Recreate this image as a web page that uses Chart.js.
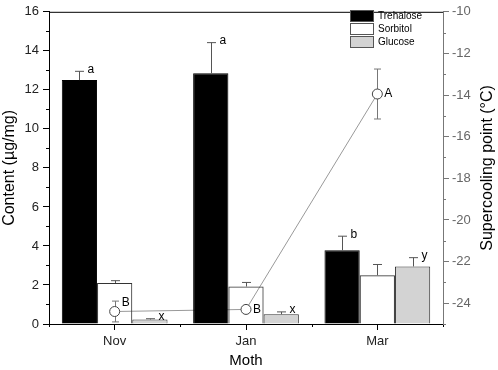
<!DOCTYPE html>
<html>
<head>
<meta charset="utf-8">
<script src="https://cdn.jsdelivr.net/npm/chart.js@4.4.1/dist/chart.umd.min.js"></script>
<style>
  body { margin: 0; background: #fff; }
</style>
</head>
<body>
<canvas id="chart" width="498" height="370"></canvas>
<script>
// data
var months = ["Nov", "Jan", "Mar"];
var trehalose = [12.5, 12.85, 3.78];
var trehaloseErr = [0.45, 1.57, 0.72];
var trehaloseLetters = ["a", "a", "b"];
var sorbitol = [2.1, 1.92, 2.5];
var sorbitolErr = [0.12, 0.21, 0.55];
var glucose = [0.23, 0.5, 2.95];
var glucoseErr = [0.04, 0.12, 0.45];
var glucoseLetters = ["x", "x", "y"];
var supercooling = [-24.4, -24.3, -13.95];
var supercoolingErr = [0.5, 0.15, 1.2];
var supercoolingLetters = ["B", "B", "A"];
var leftTicks = [0, 2, 4, 6, 8, 10, 12, 14, 16];
var rightTicks = [-24, -22, -20, -18, -16, -14, -12, -10];

Chart.defaults.font.family = "'Liberation Sans', Arial, sans-serif";
Chart.defaults.color = "#222";

var barErrors = [trehaloseErr, sorbitolErr, glucoseErr];
var barLetters = [trehaloseLetters, null, glucoseLetters];

// error bars, letters, minor ticks, legend, top frame
var extras = {
  id: "extras",
  beforeDatasetsDraw: function (chart) {
    var ctx = chart.ctx;
    var meta = chart.getDatasetMeta(3);
    var y2 = chart.scales.y2;
    ctx.save();
    ctx.strokeStyle = "#777";
    ctx.lineWidth = 1;
    meta.data.forEach(function (pt, i) {
      var hi = y2.getPixelForValue(supercooling[i] + supercoolingErr[i]);
      var lo = y2.getPixelForValue(supercooling[i] - supercoolingErr[i]);
      var x = Math.round(pt.x) + 0.5;
      ctx.beginPath();
      ctx.moveTo(x, hi); ctx.lineTo(x, lo);
      ctx.moveTo(x - 3.5, hi); ctx.lineTo(x + 3.5, hi);
      ctx.moveTo(x - 3.5, lo); ctx.lineTo(x + 3.5, lo);
      ctx.stroke();
    });
    ctx.restore();
  },
  afterDatasetsDraw: function (chart) {
    var ctx = chart.ctx;
    var y = chart.scales.y;
    var y2 = chart.scales.y2;
    var area = chart.chartArea;
    ctx.save();
    ctx.lineWidth = 1;
    ctx.font = "12px 'Liberation Sans', Arial, sans-serif";
    ctx.textBaseline = "middle";
    ctx.textAlign = "left";

    // bar error bars
    [0, 1, 2].forEach(function (d) {
      var meta = chart.getDatasetMeta(d);
      var vals = chart.data.datasets[d].data;
      meta.data.forEach(function (bar, i) {
        var top = y.getPixelForValue(vals[i] + barErrors[d][i]);
        var bx = Math.round(bar.x) + 0.5;
        ctx.strokeStyle = "#555";
        ctx.beginPath();
        ctx.moveTo(bx, bar.y); ctx.lineTo(bx, top);
        ctx.moveTo(bx - 4.5, top); ctx.lineTo(bx + 4.5, top);
        ctx.stroke();
        if (barLetters[d]) {
          ctx.fillStyle = "#000";
          ctx.fillText(barLetters[d][i], bx + 8, top - 2);
        }
      });
    });

    // letters by the supercooling points
    var pm = chart.getDatasetMeta(3);
    pm.data.forEach(function (pt, i) {
      var ly = i === 0 ? pt.y - 9 : pt.y;
      ctx.fillStyle = "#000";
      ctx.fillText(supercoolingLetters[i], pt.x + 7, ly);
    });

    // minor ticks
    ctx.strokeStyle = "#000";
    ctx.beginPath();
    for (var v = 1; v < 16; v += 2) {
      var py = Math.round(y.getPixelForValue(v)) + 0.5;
      ctx.moveTo(area.left - 3, py); ctx.lineTo(area.left, py);
    }
    var step = (area.right - area.left) / months.length;
    for (var k = 0; k <= months.length; k++) {
      var px = Math.round(area.left + k * step) + 0.5;
      ctx.moveTo(px, area.bottom); ctx.lineTo(px, area.bottom + 3);
    }
    ctx.stroke();
    ctx.strokeStyle = "#777";
    ctx.beginPath();
    for (var w = -25; w < -10; w += 2) {
      var qy = Math.round(y2.getPixelForValue(w)) + 0.5;
      ctx.moveTo(area.right, qy); ctx.lineTo(area.right + 3, qy);
    }
    ctx.stroke();

    // top frame
    ctx.strokeStyle = "#000";
    ctx.beginPath();
    ctx.moveTo(area.left, area.top + 0.5);
    ctx.lineTo(area.right, area.top + 0.5);
    ctx.stroke();

    // legend
    var names = ["Trehalose", "Sorbitol", "Glucose"];
    var fills = ["#000", "#fff", "#d3d3d3"];
    ctx.font = "10px 'Liberation Sans', Arial, sans-serif";
    names.forEach(function (n, i) {
      var ty = 10.5 + i * 13;
      ctx.fillStyle = fills[i];
      ctx.fillRect(350.5, ty, 23, 11);
      ctx.strokeStyle = "#555";
      ctx.strokeRect(350.5, ty, 23, 11);
      ctx.fillStyle = "#000";
      ctx.fillText(n, 378, ty + 5.5);
    });

    // right axis title, reading bottom to top
    ctx.save();
    ctx.translate(488, (area.top + area.bottom) / 2);
    ctx.rotate(-Math.PI / 2);
    ctx.textAlign = "center";
    ctx.font = "16px 'Liberation Sans', Arial, sans-serif";
    ctx.fillStyle = "#000";
    ctx.fillText("Supercooling point (\u00B0C)", 0, 0);
    ctx.restore();

    ctx.restore();
  }
};

var ctx = document.getElementById("chart").getContext("2d");
var chart = new Chart(ctx, {
  type: "bar",
  data: {
    labels: months,
    datasets: [
      { label: "Trehalose", data: trehalose, backgroundColor: "#000", borderColor: "#000", borderWidth: 1, yAxisID: "y", order: 1 },
      { label: "Sorbitol", data: sorbitol, backgroundColor: "rgba(255,255,255,0)", borderColor: "#333", borderWidth: 1, yAxisID: "y", order: 1 },
      { label: "Glucose", data: glucose, backgroundColor: "#d3d3d3", borderColor: "#333", borderWidth: 1, yAxisID: "y", order: 1 },
      {
        type: "line", label: "Supercooling point", data: supercooling, yAxisID: "y2", order: 2,
        borderColor: "#999", borderWidth: 1, pointRadius: 5, pointBackgroundColor: "#fff",
        pointBorderColor: "#444", pointBorderWidth: 1, fill: false, tension: 0
      }
    ]
  },
  options: {
    responsive: false,
    animation: false,
    layout: { padding: { top: 6, left: 0, right: 0, bottom: 0 } },
    datasets: { bar: { categoryPercentage: 0.805, barPercentage: 1.0 } },
    plugins: { legend: { display: false }, tooltip: { enabled: false } },
    scales: {
      x: {
        offset: true,
        grid: { drawOnChartArea: false, offset: false, tickLength: 6, color: "#000" },
        border: { color: "#000" },
        ticks: { font: { size: 13 }, color: "#222", padding: 4 },
        title: { display: true, text: "Moth", font: { size: 15 }, color: "#000", padding: { top: 0, bottom: 0 } },
        afterFit: function (s) { s.height = 46; }
      },
      y: {
        position: "left",
        min: 0, max: 16,
        afterBuildTicks: function (s) { s.ticks = leftTicks.map(function (v) { return { value: v }; }); },
        grid: { drawOnChartArea: false, tickLength: 6, color: "#000" },
        border: { color: "#000" },
        ticks: { font: { size: 13 }, color: "#222", padding: 4 },
        title: { display: true, text: "Content (\u00B5g/mg)", font: { size: 16 }, color: "#000", padding: { top: 0, bottom: 0 } },
        afterFit: function (s) { s.width = 49; }
      },
      y2: {
        position: "right",
        min: -25, max: -10,
        afterBuildTicks: function (s) { s.ticks = rightTicks.map(function (v) { return { value: v }; }); },
        grid: { drawOnChartArea: false, tickLength: 6, color: "#777" },
        border: { color: "#777" },
        ticks: { font: { size: 13 }, color: "#666", padding: 3 },
        afterFit: function (s) { s.width = 55; }
      }
    }
  },
  plugins: [extras]
});
</script>
</body>
</html>
